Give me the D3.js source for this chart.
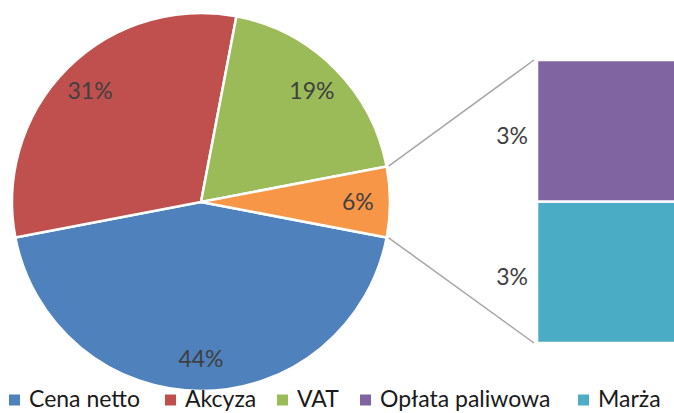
<!DOCTYPE html>
<html>
<head>
<meta charset="utf-8">
<script src="https://cdn.jsdelivr.net/npm/d3@7"></script>
<style>
  body { margin: 0; background: #fff; }
  text { font-family: Lato, "Open Sans", sans-serif; fill: #404040; }
</style>
</head>
<body>
<svg id="chart" width="674" height="413"></svg>
<script>
// pie part
var pieNames = ['Cena netto', 'Akcyza', 'VAT', 'Inne'];
var pieValues = [44, 31, 19, 6];
var pieColors = ['#4f81bd', '#c0504d', '#9bbb59', '#f79646'];

// bar part (split of the "Inne" slice)
var barNames = ['Opłata paliwowa', 'Marża'];
var barValues = [3, 3];
var barColors = ['#8064a2', '#4bacc6'];

var legendNames = ['Cena netto', 'Akcyza', 'VAT', 'Opłata paliwowa', 'Marża'];
var legendColors = ['#4f81bd', '#c0504d', '#9bbb59', '#8064a2', '#4bacc6'];

var svg = d3.select("#chart");
var cx = 201, cy = 202, r = 189;
var total = d3.sum(pieValues);
var otherFrac = pieValues[3] / total;
var start = Math.PI / 2 + otherFrac * Math.PI;

var pie = d3.pie().sort(null).startAngle(start).endAngle(start + 2 * Math.PI);
var arcs = pie(pieValues);
var arc = d3.arc().innerRadius(0).outerRadius(r);
var labelArc = d3.arc().innerRadius(r * 0.83).outerRadius(r * 0.83);

var g = svg.append("g").attr("transform", "translate(" + cx + "," + cy + ")");
g.selectAll("path").data(arcs).enter().append("path")
    .attr("d", arc)
    .attr("fill", function(d, i) { return pieColors[i]; })
    .attr("stroke", "#fff")
    .attr("stroke-width", 2.5);

g.selectAll("text.lbl").data(arcs).enter().append("text")
    .attr("class", "lbl")
    .attr("transform", function(d) { return "translate(" + labelArc.centroid(d) + ")"; })
    .attr("text-anchor", "middle")
    .attr("dy", "0.35em")
    .style("font-size", "23px")
    .text(function(d) { return Math.round(d.value / total * 100) + "%"; });

// bar
var bx = 537, bw = 150;
var y = d3.scaleLinear().domain([0, d3.sum(barValues)]).range([343, 60]);
var stacked = [];
var acc = 0;
for (var i = barValues.length - 1; i >= 0; i--) {
    stacked.push({name: barNames[i], v0: acc, v1: acc + barValues[i], color: barColors[i], value: barValues[i]});
    acc += barValues[i];
}
svg.selectAll("rect.bar").data(stacked).enter().append("rect")
    .attr("class", "bar")
    .attr("x", bx)
    .attr("y", function(d) { return y(d.v1); })
    .attr("width", bw)
    .attr("height", function(d) { return y(d.v0) - y(d.v1); })
    .attr("fill", function(d) { return d.color; })
    .attr("stroke", "#fff")
    .attr("stroke-width", 2.5);

svg.selectAll("text.blbl").data(stacked).enter().append("text")
    .attr("class", "blbl")
    .attr("x", 528)
    .attr("y", function(d) { return (y(d.v0) + y(d.v1)) / 2 + 5; })
    .attr("text-anchor", "end")
    .attr("dy", "0.35em")
    .style("font-size", "23px")
    .text(function(d) { return Math.round(d.value / total * 100) + "%"; });

// connector lines
var other = arcs[3];
var pTop = [cx + (r + 2) * Math.sin(other.startAngle), cy - (r + 2) * Math.cos(other.startAngle)];
var pBot = [cx + (r + 2) * Math.sin(other.endAngle), cy - (r + 2) * Math.cos(other.endAngle)];
svg.append("line").attr("x1", pTop[0]).attr("y1", pTop[1]).attr("x2", bx - 3).attr("y2", y.range()[1])
    .attr("stroke", "#a6a6a6").attr("stroke-width", 1.5);
svg.append("line").attr("x1", pBot[0]).attr("y1", pBot[1]).attr("x2", bx - 3).attr("y2", y.range()[0])
    .attr("stroke", "#a6a6a6").attr("stroke-width", 1.5);

// legend
var legendX = [9, 165, 277, 360, 578];
var lg = svg.selectAll("g.leg").data(legendNames).enter().append("g")
    .attr("class", "leg")
    .attr("transform", function(d, i) { return "translate(" + legendX[i] + ",400)"; });
lg.append("rect").attr("x", 0).attr("y", -5.5).attr("width", 11).attr("height", 11)
    .attr("fill", function(d, i) { return legendColors[i]; });
lg.append("text").attr("x", 20).attr("dy", "0.32em")
    .style("font-size", "23px")
    .style("fill", "#1a1a1a")
    .text(function(d) { return d; });
</script>
</body>
</html>
